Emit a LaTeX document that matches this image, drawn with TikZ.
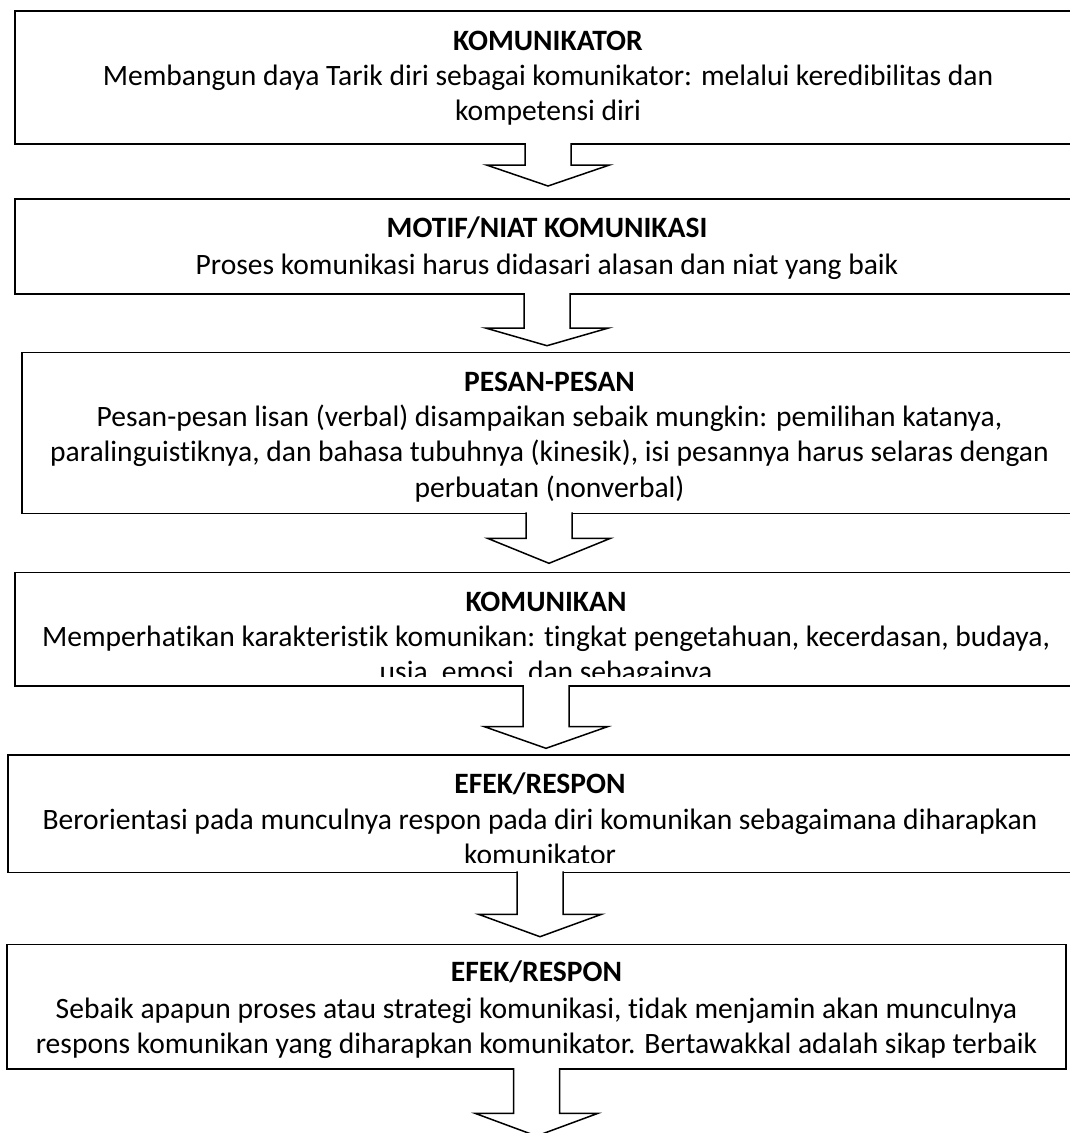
\documentclass[tikz,border=0pt]{standalone}
\usepackage{fontspec}
\setmainfont[Ligatures=NoCommon]{Carlito}
\usetikzlibrary{calc}

% panah blok: dari kotak #1 ke titik #2, jarak #3, panjang kepala #4
\newcommand{\blockarrow}[4]{%
  \draw[blockarr] let \p1=(#1.south), \p2=(#2) in
    (\x1-23pt,\y1+1pt) -- (\x1-23pt,\y2+#3pt+#4pt) -- (\x1-61.5pt,\y2+#3pt+#4pt)
    -- (\x1,\y2+#3pt) -- (\x1+61.5pt,\y2+#3pt+#4pt) -- (\x1+23pt,\y2+#3pt+#4pt)
    -- (\x1+23pt,\y1+1pt);
}

\begin{document}
\begin{tikzpicture}[
      x=1pt,y=-1pt,
      box/.style={draw,line width=1.5pt,inner sep=0pt,outer sep=0pt,rectangle},
      title/.style={font=\fontsize{29.55}{35.3}\selectfont\bfseries,inner sep=0pt,anchor=base},
      body/.style={font=\fontsize{29.55}{35.3}\selectfont,align=center,inner sep=0pt,anchor=base},
      blockarr/.style={fill=white,line width=1.5pt,line join=miter}
    ]
    \clip (0,0) rectangle (1070,1133);
    \fill[white] (0,0) rectangle (1070,1133);

    % kotak
    \node[box,minimum width=1066,minimum height=133] (kom) at (548,77.5) {};
    \node[box,minimum width=1064,minimum height=95] (motif) at (547,246.5) {};
    \node[box,minimum width=1054,minimum height=160.6] (pesan) at (549,433) {};
    \node[box,minimum width=1062,minimum height=113.3] (komn) at (546,629.35) {};
    \node[box,minimum width=1064,minimum height=117.3] (efek) at (540,813.65) {};
    \node[box,minimum width=1059,minimum height=124.7] (respon) at (536.5,1006.65) {};

    % teks (anchor base = baris terakhir)
    \node[title] (kom-t) at (548,50) {KOMUNIKATOR};
    \node[body] (kom-b) at (548,120.4) {Membangun daya Tarik diri sebagai komunikator: melalui keredibilitas dan\\ kompetensi diri};

    \node[title] (motif-t) at (547,237) {MOTIF/NIAT KOMUNIKASI};
    \node[body] (motif-b) at (547,274) {Proses komunikasi harus didasari alasan dan niat yang baik};

    \node[title] (pesan-t) at (549.5,391) {PESAN-PESAN};
    \node[body] (pesan-b) at (549.5,497) {Pesan-pesan lisan (verbal) disampaikan sebaik mungkin: pemilihan katanya,\\ paralinguistiknya, dan bahasa tubuhnya (kinesik), isi pesannya harus selaras dengan\\ perbuatan (nonverbal)};

    \begin{scope}
      \clip (komn.north west) rectangle ($(komn.south east)+(0,-9.3)$);
      \node[title] (komn-t) at (546,611) {KOMUNIKAN};
      \node[body] (komn-b) at (546,681.3) {Memperhatikan karakteristik komunikan: tingkat pengetahuan, kecerdasan, budaya,\\ usia, emosi, dan sebagainya};
    \end{scope}

    \begin{scope}
      \clip (efek.north west) rectangle ($(efek.south east)+(0,-10)$);
      \node[title] (efek-t) at (540,793.3) {EFEK/RESPON};
      \node[body] (efek-b) at (540,864.3) {Berorientasi pada munculnya respon pada diri komunikan sebagaimana diharapkan\\ komunikator};
    \end{scope}

    \node[title] (respon-t) at (536.5,981.7) {EFEK/RESPON};
    \node[body] (respon-b) at (536.5,1053.3) {Sebaik apapun proses atau strategi komunikasi, tidak menjamin akan munculnya\\ respons komunikan yang diharapkan komunikator. Bertawakkal adalah sikap terbaik};

    % panah
    \blockarrow{kom}{motif.north}{13}{21}
    \blockarrow{motif}{pesan.north}{7}{17.7}
    \blockarrow{pesan}{komn.north}{9.4}{25}
    \blockarrow{komn}{efek.north}{6.7}{21.6}
    \blockarrow{efek}{respon.north}{7.6}{22.4}
    \coordinate (akhir) at (536.5,1136);
    \blockarrow{respon}{akhir}{0}{22.7}
\end{tikzpicture}
\end{document}
